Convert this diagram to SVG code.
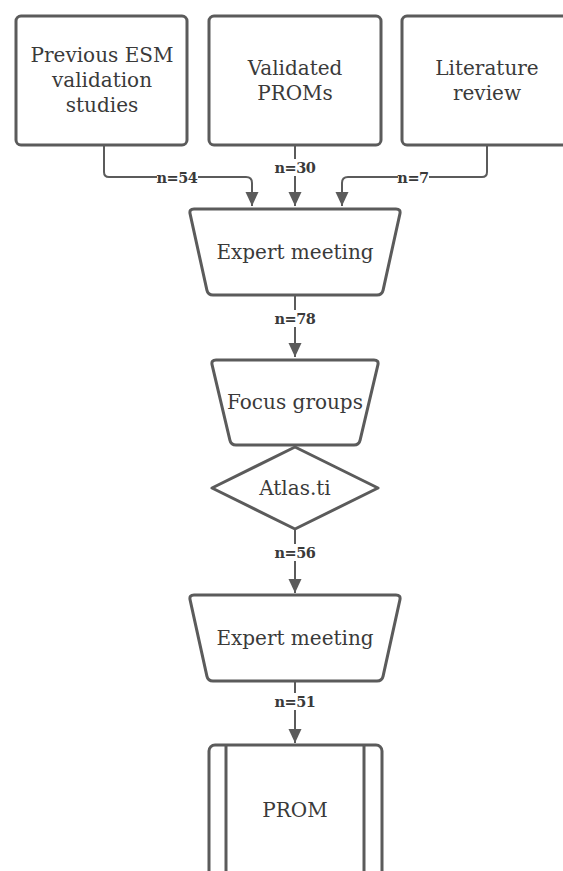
<svg xmlns="http://www.w3.org/2000/svg" width="563" height="871" viewBox="0 0 563 871">
<defs>
<style>
.shape{fill:#ffffff;stroke:#5b5b5b;stroke-width:3;stroke-linejoin:round}
.conn{fill:none;stroke:#5b5b5b;stroke-width:2}
.t{font-family:"DejaVu Serif","Liberation Serif",serif;font-size:20px;fill:#3a3a3a;text-anchor:middle}
.lbl{font-family:"DejaVu Serif","Liberation Serif",serif;font-size:14.5px;font-weight:bold;fill:#3a3a3a;text-anchor:middle;letter-spacing:-0.5px}
.bg{fill:#ffffff}
</style>
<marker id="arr" markerUnits="userSpaceOnUse" markerWidth="14" markerHeight="14" viewBox="0 0 14 13" refX="14" refY="6.5" orient="auto">
<path d="M0,0 L14,6.5 L0,13 Z" fill="#5b5b5b"/>
</marker>
</defs>
<rect width="563" height="871" fill="#ffffff"/>

<g id="connectors">
<path class="conn" d="M104,145 V172 Q104,177 109,177 H246 Q252,177 252,183 V206" marker-end="url(#arr)"/>
<path class="conn" d="M295,145 V206" marker-end="url(#arr)"/>
<path class="conn" d="M487,145 V172 Q487,177 482,177 H348 Q342,177 342,183 V206" marker-end="url(#arr)"/>
<path class="conn" d="M295,295 V357" marker-end="url(#arr)"/>
<path class="conn" d="M295,529 V593" marker-end="url(#arr)"/>
<path class="conn" d="M295,680 V743" marker-end="url(#arr)"/>
<rect class="bg" x="157" y="169" width="41" height="17"/>
<text class="lbl" x="177" y="182.5">n=54</text>
<rect class="bg" x="275" y="159" width="41" height="17"/>
<text class="lbl" x="295" y="173">n=30</text>
<rect class="bg" x="398" y="169" width="31" height="17"/>
<text class="lbl" x="413" y="182.5">n=7</text>
<rect class="bg" x="275" y="310" width="41" height="17"/>
<text class="lbl" x="295" y="324">n=78</text>
<rect class="bg" x="275" y="544" width="41" height="17"/>
<text class="lbl" x="295" y="558">n=56</text>
<rect class="bg" x="275" y="693" width="41" height="17"/>
<text class="lbl" x="295" y="707">n=51</text>
</g>

<g id="prev-esm">
<rect class="shape" x="16" y="16" width="171" height="129" rx="5"/>
<text class="t" x="102" y="62">Previous ESM</text>
<text class="t" x="102" y="87">validation</text>
<text class="t" x="102" y="112">studies</text>
</g>

<g id="validated-proms">
<rect class="shape" x="209" y="16" width="172" height="129" rx="5"/>
<text class="t" x="295" y="75">Validated</text>
<text class="t" x="295" y="100">PROMs</text>
</g>

<g id="literature-review">
<rect class="shape" x="402" y="16" width="171" height="129" rx="5"/>
<text class="t" x="487" y="75">Literature</text>
<text class="t" x="487" y="100">review</text>
</g>

<g id="expert-meeting-1">
<path class="shape" d="M194,209 H396 Q401,209 399.9,213.9 L383.1,290.1 Q382,295 377,295 H213 Q208,295 206.9,290.1 L190.1,213.9 Q189,209 194,209 Z"/>
<text class="t" x="295" y="259">Expert meeting</text>
</g>

<g id="focus-groups">
<path class="shape" d="M216,360 H374 Q379,360 377.9,364.9 L360.1,440.1 Q359,445 354,445 H236 Q231,445 229.9,440.1 L212.1,364.9 Q211,360 216,360 Z"/>
<text class="t" x="295" y="409">Focus groups</text>
</g>

<g id="atlas-ti">
<path class="shape" d="M295,447 L378,488 L295,529 L212,488 Z"/>
<text class="t" x="295" y="495">Atlas.ti</text>
</g>

<g id="expert-meeting-2">
<path class="shape" transform="translate(0,386)" d="M194,209 H396 Q401,209 399.9,213.9 L383.1,290.1 Q382,295 377,295 H213 Q208,295 206.9,290.1 L190.1,213.9 Q189,209 194,209 Z"/>
<text class="t" x="295" y="645">Expert meeting</text>
</g>

<g id="prom">
<rect class="shape" x="209" y="745" width="173" height="170" rx="6"/>
<line class="shape" x1="226" y1="745" x2="226" y2="915"/>
<line class="shape" x1="364" y1="745" x2="364" y2="915"/>
<text class="t" x="295" y="817">PROM</text>
</g>
</svg>
